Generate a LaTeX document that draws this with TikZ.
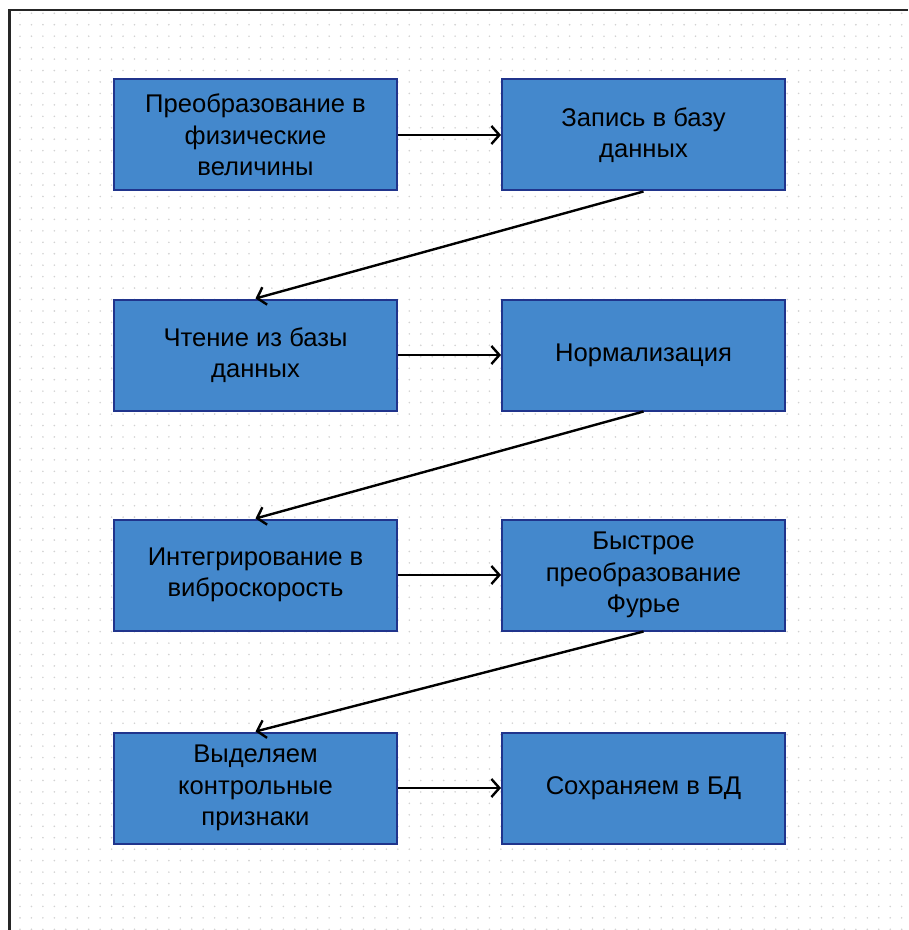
\documentclass[tikz,border=0pt]{standalone}
\usepackage{fontspec}
\setmainfont{Liberation Sans}
\usetikzlibrary{positioning,arrows.meta}
\definecolor{boxfill}{RGB}{68,136,204}
\definecolor{boxline}{RGB}{32,52,140}

\begin{document}
\begin{tikzpicture}[x=0.75pt, y=-0.75pt, node distance=80.25pt and 77.25pt,
    stepbox/.style={draw=boxline, line width=1.5pt, fill=boxfill, rectangle,
        minimum width=212.25pt, minimum height=83.25pt, inner sep=0pt,
        align=center, font=\fontsize{19.2}{23.6}\selectfont},
    flow/.style={-{Straight Barb[length=6pt,width=13.5pt]}, line width=1.8pt}]
    \useasboundingbox (0,0) rectangle (908,930);

    % dotted grid and page frame
    \foreach \i in {0,...,77} {
        \foreach \j in {0,...,80} {
            \fill[gray!35] (20+\i*11.45, 13.3+\j*11.45) circle (0.9);
        }
    }
    \draw[line width=2pt, black!85] (9.5,930) -- (9.5,10) -- (908,10);

    \node[stepbox] (convert) at (255.5,135) {Преобразование в\\физические\\величины};
    \node[stepbox, right=of convert] (write) {Запись в базу\\данных};
    \node[stepbox, below=of convert] (read) {Чтение из базы\\данных};
    \node[stepbox, right=of read] (norm) {Нормализация};
    \node[stepbox, below=of read] (integ) {Интегрирование в\\виброскорость};
    \node[stepbox, right=of integ] (fft) {Быстрое\\преобразование\\Фурье};
    \node[stepbox, below=75pt of integ] (feat) {Выделяем\\контрольные\\признаки};
    \node[stepbox, right=of feat] (save) {Сохраняем в БД};

    \draw[flow] (convert) -- (write);
    \draw[flow] (write.south) -- (read.north);
    \draw[flow] (read) -- (norm);
    \draw[flow] (norm.south) -- (integ.north);
    \draw[flow] (integ) -- (fft);
    \draw[flow] (fft.south) -- (feat.north);
    \draw[flow] (feat) -- (save);
\end{tikzpicture}
\end{document}
